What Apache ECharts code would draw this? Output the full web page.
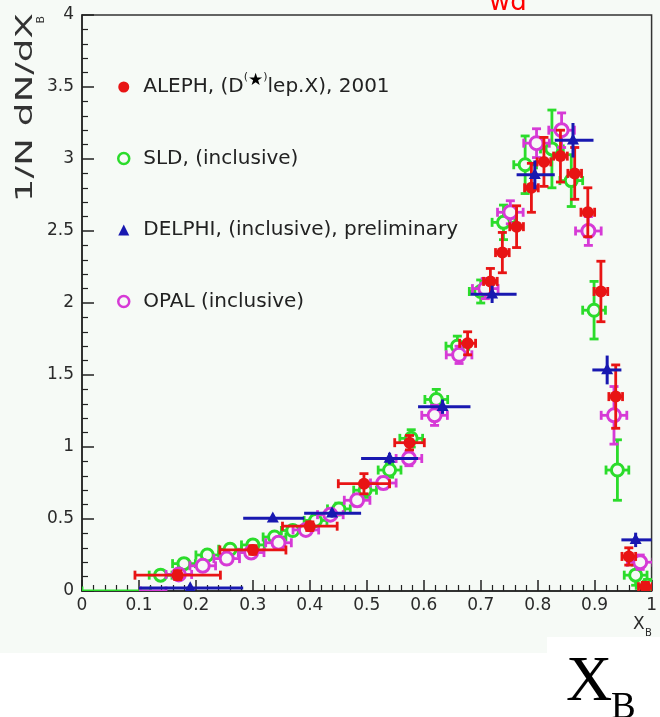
<!DOCTYPE html>
<html>
<head>
<meta charset="utf-8">
<script src="https://cdn.jsdelivr.net/npm/echarts@6/dist/echarts.min.js"></script>
<style>
  html, body { margin: 0; padding: 0; background: #ffffff; }
  #chart { width: 660px; height: 717px; }
</style>
</head>
<body>
<div id="chart"></div>
<script>
// ---- tick labels ----
const xTickLabels = ['0', '0.1', '0.2', '0.3', '0.4', '0.5', '0.6', '0.7', '0.8', '0.9', '1'];
const yTickLabels = ['0', '0.5', '1', '1.5', '2', '2.5', '3', '3.5', '4'];

// ---- ALEPH, D*lep.X (2001) ----
const alephX    = [0.168, 0.300, 0.400, 0.495, 0.575, 0.677, 0.717, 0.738, 0.763, 0.789, 0.811, 0.840, 0.865, 0.888, 0.911, 0.937, 0.960, 0.989];
const alephY    = [0.11, 0.285, 0.45, 0.745, 1.03, 1.72, 2.15, 2.35, 2.53, 2.80, 2.98, 3.02, 2.90, 2.63, 2.08, 1.35, 0.24, 0.03];
const alephXErr = [0.075, 0.058, 0.048, 0.045, 0.026, 0.014, 0.012, 0.012, 0.012, 0.012, 0.012, 0.012, 0.012, 0.012, 0.012, 0.012, 0.012, 0.012];
const alephYErr = [0.03, 0.03, 0.03, 0.07, 0.05, 0.08, 0.09, 0.14, 0.145, 0.17, 0.17, 0.18, 0.18, 0.17, 0.21, 0.22, 0.06, 0.03];

// ---- SLD, inclusive ----
const sldX    = [0.060, 0.138, 0.179, 0.220, 0.260, 0.300, 0.338, 0.370, 0.410, 0.451, 0.497, 0.540, 0.578, 0.622, 0.659, 0.700, 0.740, 0.778, 0.825, 0.859, 0.899, 0.940, 0.972, 0.993];
const sldY    = [0.0, 0.11, 0.19, 0.25, 0.29, 0.32, 0.375, 0.42, 0.49, 0.57, 0.70, 0.84, 1.06, 1.33, 1.70, 2.08, 2.56, 2.96, 3.07, 2.85, 1.95, 0.84, 0.11, 0.04];
const sldXErr = [0.060, 0.02, 0.02, 0.02, 0.02, 0.02, 0.02, 0.02, 0.02, 0.02, 0.02, 0.02, 0.02, 0.02, 0.02, 0.02, 0.02, 0.02, 0.02, 0.02, 0.02, 0.02, 0.02, 0.02];
const sldYErr = [0.0, 0.03, 0.03, 0.03, 0.03, 0.03, 0.03, 0.03, 0.04, 0.04, 0.05, 0.05, 0.06, 0.07, 0.07, 0.08, 0.12, 0.20, 0.27, 0.18, 0.20, 0.21, 0.07, 0.04];

// ---- DELPHI, inclusive, preliminary (bin edges) ----
const delphiX     = [0.190, 0.335, 0.439, 0.540, 0.633, 0.720, 0.795, 0.862, 0.922, 0.972];
const delphiY     = [0.02, 0.505, 0.54, 0.92, 1.28, 2.06, 2.89, 3.13, 1.535, 0.355];
const delphiBinLo = [0.100, 0.283, 0.390, 0.490, 0.590, 0.682, 0.763, 0.830, 0.896, 0.947];
const delphiBinHi = [0.283, 0.390, 0.490, 0.590, 0.682, 0.763, 0.830, 0.898, 0.947, 1.000];
const delphiYErr  = [0.01, 0.02, 0.03, 0.04, 0.05, 0.06, 0.10, 0.12, 0.10, 0.05];

// ---- OPAL, inclusive ----
const opalX    = [0.125, 0.170, 0.212, 0.254, 0.297, 0.345, 0.393, 0.436, 0.483, 0.529, 0.574, 0.619, 0.662, 0.708, 0.752, 0.798, 0.842, 0.889, 0.934, 0.980];
const opalY    = [0.0, 0.115, 0.175, 0.225, 0.267, 0.335, 0.424, 0.53, 0.63, 0.75, 0.92, 1.22, 1.64, 2.10, 2.63, 3.11, 3.20, 2.50, 1.22, 0.20];
const opalXErr = [0.0225, 0.0225, 0.0225, 0.0225, 0.0225, 0.0225, 0.0225, 0.0225, 0.0225, 0.0225, 0.0225, 0.0225, 0.0225, 0.0225, 0.0225, 0.0225, 0.0225, 0.0225, 0.0225, 0.0225];
const opalYErr = [0.0, 0.03, 0.03, 0.03, 0.03, 0.03, 0.03, 0.03, 0.04, 0.04, 0.05, 0.07, 0.06, 0.07, 0.08, 0.10, 0.12, 0.10, 0.20, 0.05];

const RED = '#e81414';
const GREEN = '#2bdc2b';
const BLUE = '#1818b0';
const MAGENTA = '#d63ad6';
const PANEL_BG = '#f6faf6';
const FONT = 'DejaVu Sans';

// rows: [x, y, xLow, xHigh, yErr]
function symRows(xs, ys, xe, ye) {
  return xs.map((x, i) => [x, ys[i], x - xe[i], x + xe[i], ye[i]]);
}
function binRows(xs, ys, lo, hi, ye) {
  return xs.map((x, i) => [x, ys[i], lo[i], hi[i], ye[i]]);
}

// error cross (with optional end caps) plus a marker
function errorRenderer(opt) {
  return function (params, api) {
    const x = api.value(0), y = api.value(1);
    const xl = api.value(2), xh = api.value(3), ye = api.value(4);
    const c = api.coord([x, y]);
    const pl = api.coord([xl, y]);
    const ph = api.coord([xh, y]);
    const pt = api.coord([x, y + ye]);
    const pb = api.coord([x, y - ye]);
    const ls = { stroke: opt.color, lineWidth: opt.lineWidth, fill: null };
    const kids = [];
    kids.push({ type: 'line', shape: { x1: pl[0], y1: c[1], x2: ph[0], y2: c[1] }, style: ls });
    if (pb[1] - pt[1] > 1) {
      kids.push({ type: 'line', shape: { x1: c[0], y1: pt[1], x2: c[0], y2: pb[1] }, style: ls });
    }
    if (opt.cap) {
      const h = opt.cap;
      kids.push({ type: 'line', shape: { x1: pl[0], y1: c[1] - h, x2: pl[0], y2: c[1] + h }, style: ls });
      kids.push({ type: 'line', shape: { x1: ph[0], y1: c[1] - h, x2: ph[0], y2: c[1] + h }, style: ls });
      if (pb[1] - pt[1] > 1) {
        kids.push({ type: 'line', shape: { x1: c[0] - h, y1: pt[1], x2: c[0] + h, y2: pt[1] }, style: ls });
        kids.push({ type: 'line', shape: { x1: c[0] - h, y1: pb[1], x2: c[0] + h, y2: pb[1] }, style: ls });
      }
    }
    if (y > 0.001) {
      const r = opt.size / 2;
      if (opt.marker === 'dot') {
        kids.push({ type: 'circle', shape: { cx: c[0], cy: c[1], r: r }, style: { fill: opt.color } });
      } else if (opt.marker === 'ring') {
        kids.push({ type: 'circle', shape: { cx: c[0], cy: c[1], r: r }, style: { fill: PANEL_BG, stroke: opt.color, lineWidth: 3 } });
      } else if (opt.marker === 'tri') {
        kids.push({ type: 'polygon', shape: { points: [[c[0], c[1] - r * 1.15], [c[0] - r, c[1] + r * 0.7], [c[0] + r, c[1] + r * 0.7]] }, style: { fill: opt.color } });
      }
    }
    return { type: 'group', children: kids };
  };
}

const legendText = {
  'ALEPH': 'ALEPH, (D{p|(}{s|★}{p|)}lep.X), 2001',
  'SLD': 'SLD, (inclusive)',
  'DELPHI': 'DELPHI, (inclusive), preliminary',
  'OPAL': 'OPAL (inclusive)'
};

const chart = echarts.init(document.getElementById('chart'), null, { renderer: 'canvas' });

chart.setOption({
  backgroundColor: 'transparent',
  animation: false,
  grid: {
    left: 82, top: 15, width: 576, height: 576,
    show: true, backgroundColor: PANEL_BG, borderColor: '#333', borderWidth: 1.5
  },
  xAxis: {
    type: 'value', min: 0, max: 1, interval: 0.1,
    axisLine: { lineStyle: { color: '#222', width: 1.5 } },
    axisTick: { inside: true, length: 11, lineStyle: { color: '#222', width: 1.5 } },
    minorTick: { show: true, splitNumber: 5, length: 6, lineStyle: { color: '#222', width: 1.2 } },
    splitLine: { show: false },
    axisLabel: {
      margin: 6, fontSize: 17, color: '#2a2a2a', fontFamily: FONT,
      formatter: v => xTickLabels[Math.round(v * 10)]
    }
  },
  yAxis: {
    type: 'value', min: 0, max: 4, interval: 0.5,
    axisLine: { lineStyle: { color: '#222', width: 1.5 } },
    axisTick: { inside: true, length: 12, lineStyle: { color: '#222', width: 1.5 } },
    minorTick: { show: true, splitNumber: 5, length: 6, lineStyle: { color: '#222', width: 1.2 } },
    splitLine: { show: false },
    axisLabel: {
      margin: 8, fontSize: 17, color: '#2a2a2a', fontFamily: FONT,
      formatter: v => yTickLabels[Math.round(v * 2)]
    }
  },
  legend: {
    orient: 'vertical', left: 117, top: 72, padding: 0,
    itemGap: 41.5, itemWidth: 11, itemHeight: 11,
    selectedMode: false,
    formatter: name => legendText[name],
    textStyle: {
      fontFamily: FONT, fontSize: 20, color: '#222', lineHeight: 30, padding: [0, 0, 0, 9],
      rich: {
        p: { fontFamily: FONT, fontSize: 11, color: '#222', lineHeight: 13, verticalAlign: 'top' },
        s: { fontFamily: FONT, fontSize: 17, fontWeight: 'bold', color: '#000', lineHeight: 11, verticalAlign: 'top' }
      }
    },
    data: [
      { name: 'ALEPH', icon: 'circle', itemStyle: { color: RED } },
      { name: 'SLD', icon: 'circle', itemStyle: { color: 'rgba(0,0,0,0)', borderColor: GREEN, borderWidth: 2.5 } },
      { name: 'DELPHI', icon: 'triangle', itemStyle: { color: BLUE } },
      { name: 'OPAL', icon: 'circle', itemStyle: { color: 'rgba(0,0,0,0)', borderColor: MAGENTA, borderWidth: 2.5 } }
    ]
  },
  series: [
    {
      name: 'SLD', type: 'custom', clip: true, encode: { x: 0, y: 1 },
      itemStyle: { color: GREEN },
      renderItem: errorRenderer({ color: GREEN, lineWidth: 2.8, cap: 4.5, marker: 'ring', size: 12 }),
      data: symRows(sldX, sldY, sldXErr, sldYErr)
    },
    {
      name: 'OPAL', type: 'custom', clip: true, encode: { x: 0, y: 1 },
      itemStyle: { color: MAGENTA },
      renderItem: errorRenderer({ color: MAGENTA, lineWidth: 2.8, cap: 4.5, marker: 'ring', size: 13 }),
      data: symRows(opalX, opalY, opalXErr, opalYErr)
    },
    {
      name: 'ALEPH', type: 'custom', clip: true, encode: { x: 0, y: 1 },
      itemStyle: { color: RED },
      renderItem: errorRenderer({ color: RED, lineWidth: 2.8, cap: 4.5, marker: 'dot', size: 12 }),
      data: symRows(alephX, alephY, alephXErr, alephYErr)
    },
    {
      name: 'DELPHI', type: 'custom', clip: true, encode: { x: 0, y: 1 },
      itemStyle: { color: BLUE },
      renderItem: errorRenderer({ color: BLUE, lineWidth: 3, cap: 0, marker: 'tri', size: 12 }),
      data: binRows(delphiX, delphiY, delphiBinLo, delphiBinHi, delphiYErr)
    }
  ],
  graphic: [
    // light panel behind the plot and its labels
    { type: 'rect', z: -10, shape: { x: 0, y: 0, width: 660, height: 653 }, style: { fill: PANEL_BG } },
    // vertical axis title
    {
      type: 'text', z: 5, x: 26, y: 13, rotation: Math.PI / 2, scaleX: 1.62,
      style: { text: '1/N dN/dX', font: '23px "DejaVu Sans"', fill: '#333', align: 'right', verticalAlign: 'middle' }
    },
    {
      type: 'text', z: 5, x: 41, y: 16, rotation: Math.PI / 2,
      style: { text: 'B', font: '11px "DejaVu Sans"', fill: '#333', align: 'right', verticalAlign: 'middle' }
    },
    // small horizontal axis name
    { type: 'text', z: 5, x: 633, y: 625, style: { text: 'X', font: '17px "DejaVu Sans"', fill: '#2a2a2a', align: 'left', verticalAlign: 'middle' } },
    { type: 'text', z: 5, x: 645, y: 633, style: { text: 'B', font: '10px "DejaVu Sans"', fill: '#2a2a2a', align: 'left', verticalAlign: 'middle' } },
    // red heading, running off the top edge
    { type: 'text', z: 5, x: 489, y: 3, style: { text: 'wd', font: '26px "DejaVu Sans"', fill: '#ff0000', align: 'left', verticalAlign: 'middle' } },
    // white label box with large X_B
    { type: 'rect', z: 50, shape: { x: 547, y: 637, width: 113, height: 80 }, style: { fill: '#ffffff' } },
    { type: 'text', z: 51, x: 566, y: 715, style: { text: 'X', font: '64px "Liberation Serif"', fill: '#000', align: 'left', verticalAlign: 'bottom' } },
    { type: 'text', z: 51, x: 611, y: 727, style: { text: 'B', font: '37px "Liberation Serif"', fill: '#000', align: 'left', verticalAlign: 'bottom' } }
  ]
});
</script>
</body>
</html>
